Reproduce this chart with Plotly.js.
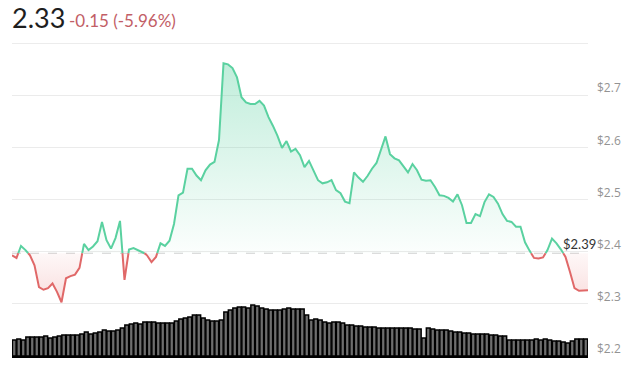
<!DOCTYPE html>
<html>
<head>
<meta charset="utf-8">
<script src="https://cdn.plot.ly/plotly-3.0.1.min.js"></script>
<style>html,body{margin:0;padding:0;background:#fff;}#chart{width:640px;height:368px;}</style>
</head>
<body>
<div id="chart"></div>
<script>
// ---- data ----
const lastPrice = "2.33";
const changeText = "-0.15 (-5.96%)";
const refPrice = 2.397;          // dashed reference level
const refLabel = "$2.39";

const prices = [
  2.393,2.388,2.411,2.403,2.393,2.374,2.332,2.327,2.330,2.339,
  2.323,2.303,2.349,2.353,2.356,2.369,2.415,2.403,2.410,2.420,
  2.457,2.422,2.406,2.426,2.459,2.346,2.404,2.407,2.403,2.400,
  2.393,2.380,2.390,2.416,2.411,2.421,2.453,2.508,2.513,2.559,
  2.559,2.546,2.537,2.556,2.567,2.572,2.614,2.761,2.759,2.752,
  2.734,2.696,2.686,2.683,2.683,2.689,2.680,2.658,2.641,2.622,
  2.599,2.612,2.592,2.597,2.585,2.562,2.574,2.556,2.537,2.531,
  2.533,2.537,2.518,2.512,2.496,2.493,2.552,2.542,2.534,2.545,
  2.559,2.570,2.597,2.621,2.587,2.579,2.575,2.564,2.552,2.568,
  2.556,2.538,2.536,2.537,2.524,2.508,2.507,2.503,2.496,2.510,
  2.489,2.455,2.455,2.472,2.468,2.495,2.510,2.505,2.492,2.472,
  2.459,2.457,2.448,2.448,2.418,2.402,2.388,2.387,2.389,2.403,
  2.425,2.416,2.404,2.390,2.361,2.330,2.325,2.325,2.326
];

const volumes = [
  160,170,160,190,190,190,190,200,180,190,
  200,210,210,210,210,220,240,220,230,240,
  260,250,250,260,280,310,320,330,320,340,
  340,340,330,330,330,330,350,370,380,390,
  410,410,380,360,350,350,360,440,460,480,
  490,490,480,510,500,480,470,460,460,460,
  470,480,470,470,470,410,360,370,360,340,
  330,340,340,330,310,310,300,300,290,290,
  290,280,280,280,280,280,280,280,280,270,
  270,180,280,270,260,260,260,250,240,240,
  230,230,220,220,220,220,210,210,200,200,
  160,160,160,160,160,160,170,160,170,160,
  150,150,140,130,150,170,170,170
];

const yTickVals = [2.2,2.3,2.4,2.5,2.6,2.7];
const yTickText = ["$2.2","$2.3","$2.4","$2.5","$2.6","$2.7"];
const yTop = 2.8;

// ---- build traces ----
const GREEN = "rgb(90,209,160)";
const RED = "rgb(224,104,104)";

const t0 = prices.map((_, i) => i);
const T = [], P = [];
for (let i = 0; i < prices.length; i++) {
  if (i > 0) {
    const a = prices[i-1] - refPrice, b = prices[i] - refPrice;
    if (a * b < 0) {
      const f = a / (a - b);
      T.push(t0[i-1] + f * (t0[i] - t0[i-1]));
      P.push(refPrice);
    }
  }
  T.push(t0[i]); P.push(prices[i]);
}
const baseY = T.map(() => refPrice);
const upY = P.map(p => Math.max(p, refPrice));
const dnY = P.map(p => Math.min(p, refPrice));
const greenLineY = P.map(p => p >= refPrice ? p : null);
const redLineY = P.map(p => p <= refPrice ? p : null);

const barX = volumes.map((_, i) => i + 0.5);

const traces = [
  {type:'bar', x:barX, y:volumes, yaxis:'y2', width:0.84,
   marker:{color:'#6e6e6e', line:{color:'#000000', width:1.5}}, hoverinfo:'skip'},
  {type:'scatter', mode:'lines', x:T, y:baseY, line:{width:0, color:'rgba(0,0,0,0)'}, hoverinfo:'skip'},
  {type:'scatter', mode:'lines', x:T, y:upY, fill:'tonexty', line:{width:0, color:'rgba(0,0,0,0)'},
   fillgradient:{type:'vertical', start:refPrice, stop:2.76,
     colorscale:[[0,'rgba(90,209,160,0.02)'],[1,'rgba(90,209,160,0.38)']]}, hoverinfo:'skip'},
  {type:'scatter', mode:'lines', x:T, y:baseY, line:{width:0, color:'rgba(0,0,0,0)'}, hoverinfo:'skip'},
  {type:'scatter', mode:'lines', x:T, y:dnY, fill:'tonexty', line:{width:0, color:'rgba(0,0,0,0)'},
   fillgradient:{type:'vertical', start:2.30, stop:refPrice,
     colorscale:[[0,'rgba(230,110,110,0.24)'],[1,'rgba(230,110,110,0.05)']]}, hoverinfo:'skip'},
  {type:'scatter', mode:'lines', x:T, y:greenLineY, line:{color:GREEN, width:2}, connectgaps:false, hoverinfo:'skip'},
  {type:'scatter', mode:'lines', x:T, y:redLineY, line:{color:RED, width:2}, connectgaps:false, hoverinfo:'skip'}
];

const layout = {
  width:640, height:368,
  margin:{l:12, r:52, t:43, b:12},
  paper_bgcolor:'#ffffff', plot_bgcolor:'#ffffff',
  showlegend:false,
  font:{family:'Lato, "Open Sans", sans-serif'},
  xaxis:{range:[0, prices.length-1], showgrid:false, zeroline:false, showticklabels:false,
         showline:true, linecolor:'#000', linewidth:2, fixedrange:true},
  yaxis:{range:[2.2, yTop], side:'right', tickvals:yTickVals, ticktext:yTickText,
         showgrid:true, gridcolor:'#ebebeb', gridwidth:1, zeroline:false, ticks:'',
         tickfont:{size:12, color:'#939393', family:'"Open Sans", sans-serif'},
         ticklabelshift:-7, ticklabelstandoff:8, fixedrange:true},
  yaxis2:{overlaying:'y', range:[0, 3130], visible:false, fixedrange:true},
  shapes:[
    {type:'line', xref:'paper', x0:0, x1:1, yref:'y', y0:yTop, y1:yTop,
     line:{color:'#e6e6e6', width:1.5}, layer:'below'},
    {type:'line', xref:'paper', x0:0, x1:1, yref:'y', y0:refPrice, y1:refPrice,
     line:{color:'#cfcfcf', width:1, dash:'dash'}, layer:'below'}
  ],
  annotations:[
    {xref:'paper', yref:'paper', x:-0.004, y:1.08, xanchor:'left', yanchor:'middle',
     text:lastPrice, showarrow:false, font:{size:27, color:'#1e1e1e', family:'Lato, sans-serif'}},
    {xref:'paper', yref:'paper', x:0.095, y:1.072, xanchor:'left', yanchor:'middle',
     text:changeText, showarrow:false, font:{size:17, color:'#c25e66', family:'Lato, sans-serif'}},
    {xref:'paper', yref:'y', x:1, y:refPrice, xanchor:'right', yanchor:'bottom', xshift:10, yshift:-1,
     text:refLabel, showarrow:false, font:{size:13, color:'#333', family:'Lato, sans-serif'}}
  ],
  hovermode:false
};

Plotly.newPlot('chart', traces, layout, {staticPlot:true, displayModeBar:false});
</script>
</body>
</html>
